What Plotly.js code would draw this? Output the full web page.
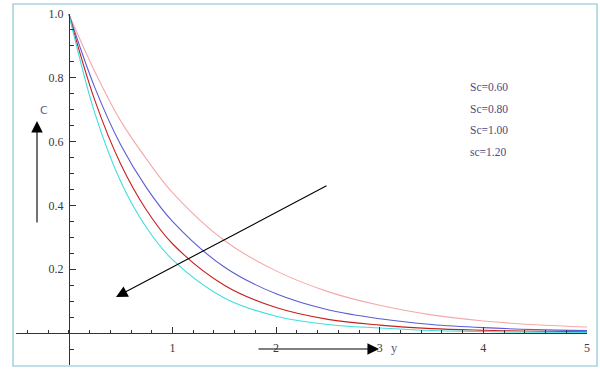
<!DOCTYPE html>
<html>
<head>
<meta charset="utf-8">
<script src="https://cdn.plot.ly/plotly-3.0.1.min.js"></script>
<style>html,body{margin:0;padding:0;background:#fff;}#chart{width:600px;height:373px;}</style>
</head>
<body>
<div id="chart"></div>
<script>
// distance y
var yPos = [0, 0.25, 0.5, 0.75, 1, 1.5, 2, 2.5, 3, 3.5, 4, 4.5, 5];
// concentration C for each Schmidt number
var cSc060 = [1.0, 0.82, 0.665, 0.545, 0.44, 0.29, 0.195, 0.13, 0.087, 0.057, 0.038, 0.026, 0.019];
var cSc080 = [1.0, 0.77, 0.59, 0.455, 0.35, 0.207, 0.123, 0.073, 0.045, 0.027, 0.017, 0.011, 0.008];
var cSc100 = [1.0, 0.73, 0.53, 0.385, 0.28, 0.15, 0.08, 0.043, 0.025, 0.014, 0.009, 0.006, 0.004];
var cSc120 = [1.0, 0.69, 0.475, 0.33, 0.23, 0.11, 0.053, 0.027, 0.016, 0.008, 0.005, 0.003, 0.002];
var legendLabels = ["Sc=0.60", "Sc=0.80", "Sc=1.00", "sc=1.20"];
var xTickVals = [1, 2, 3, 4, 5];
var xTickText = ["1", "2", "3", "4", "5"];
var yTickVals = [0.2, 0.4, 0.6, 0.8, 1.0];
var yTickText = ["0.2", "0.4", "0.6", "0.8", "1.0"];

var colors = ["#f3aaaa", "#5c5cd4", "#c82020", "#40dede"];
var series = [cSc060, cSc080, cSc100, cSc120];

var traces = series.map(function (s, i) {
  return {
    x: yPos, y: s, type: "scatter", mode: "lines",
    line: {color: colors[i], width: 1.1, shape: "spline", smoothing: 1.0},
    hoverinfo: "skip", showlegend: false, cliponaxis: false
  };
});

var xr = [-0.51, 5.0], yr = [-0.1, 1.0];
var axFont = {family: "Liberation Serif, Times New Roman, serif", size: 12, color: "#3a3a3a"};

var annotations = legendLabels.map(function (t, i) {
  return {
    xref: "paper", yref: "paper",
    x: (468 - 16) / 571, y: (365 - (87 + i * 21.5)) / 351,
    xanchor: "left", yanchor: "middle", showarrow: false, text: t,
    font: {family: "Liberation Serif, Times New Roman, serif", size: 11.5, color: "#4a4a7e"}
  };
});
annotations.push({xref: "paper", yref: "paper", x: (38 - 16) / 571, y: (365 - 102) / 351,
  showarrow: false, text: "C", font: {family: "DejaVu Sans, sans-serif", size: 11, color: "#5a6090"}});
annotations.push({xref: "paper", yref: "paper", x: (400 - 16) / 571, y: (365 - 357) / 351,
  showarrow: false, text: "y", font: {family: "Liberation Serif, serif", size: 12.5, color: "#555a80"}});
// arrows
function arrow(tx, ty, hx, hy) {
  return {xref: "paper", yref: "paper", axref: "paper", ayref: "paper",
    x: (hx - 16) / 571, y: (365 - hy) / 351, ax: (tx - 16) / 571, ay: (365 - ty) / 351,
    showarrow: true, arrowhead: 2, arrowsize: 2.1, arrowwidth: 1.1, arrowcolor: "#000", text: "", standoff: 0};
}
annotations.push(arrow(37, 224, 37, 121));
annotations.push(arrow(257, 349, 379, 349));
annotations.push(arrow(328, 185, 116, 297));

var layout = {
  width: 600, height: 373,
  margin: {l: 16, r: 13, t: 14, b: 8},
  paper_bgcolor: "#fff", plot_bgcolor: "#fff",
  showlegend: false,
  xaxis: {
    range: xr, anchor: "free", position: (0 - yr[0]) / (yr[1] - yr[0]),
    showgrid: false, zeroline: false, showline: true, linecolor: "#333", linewidth: 1.3,
    ticks: "inside", ticklen: 6, tickwidth: 1.2, tickcolor: "#333",
    tickmode: "array", tickvals: xTickVals, ticktext: xTickText, tickfont: axFont,
    minor: {ticks: "inside", ticklen: 3.5, tickwidth: 1, tickcolor: "#333", dtick: 0.2, tick0: 0, showgrid: false},
    ticklabelstandoff: 3, fixedrange: true
  },
  yaxis: {
    range: yr, anchor: "free", position: (0 - xr[0]) / (xr[1] - xr[0]),
    showgrid: false, zeroline: false, showline: true, linecolor: "#333", linewidth: 1.3,
    ticks: "inside", ticklen: 6, tickwidth: 1.2, tickcolor: "#333",
    tickmode: "array", tickvals: yTickVals, ticktext: yTickText, tickfont: axFont,
    minor: {ticks: "inside", ticklen: 4, tickwidth: 1, tickcolor: "#333", dtick: 0.05, tick0: 0, showgrid: false},
    ticklabelstandoff: 3, fixedrange: true
  },
  shapes: [{type: "rect", xref: "paper", yref: "paper",
    x0: (13 - 16) / 571, x1: (597 - 16) / 571, y0: (365 - 366) / 351, y1: (365 - 4) / 351,
    line: {color: "#aad4de", width: 1.6}, fillcolor: "rgba(0,0,0,0)", layer: "below"}],
  annotations: annotations
};

Plotly.newPlot("chart", traces, layout, {displayModeBar: false, staticPlot: true});
</script>
</body>
</html>
